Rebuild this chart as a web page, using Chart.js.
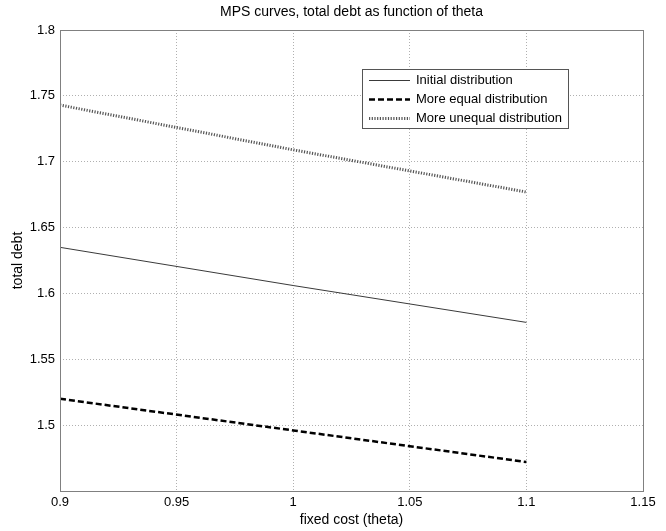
<!DOCTYPE html>
<html>
<head>
<meta charset="utf-8">
<script src="https://cdn.jsdelivr.net/npm/chart.js@4/dist/chart.umd.min.js"></script>
<style>
    html, body { margin: 0; padding: 0; background: #fff; }
    canvas { display: block; }
</style>
</head>
<body>
<canvas id="chart" width="666" height="531"></canvas>
<script>
'use strict';

// theta values
const theta = [0.9, 1.0, 1.1];

// total debt per distribution
const initialDebt = [1.635, 1.606, 1.578];
const equalDebt = [1.520, 1.496, 1.472];
const unequalDebt = [1.743, 1.709, 1.677];

const xTicks = [0.9, 0.95, 1.0, 1.05, 1.1, 1.15];
const xTickLabels = ['0.9', '0.95', '1', '1.05', '1.1', '1.15'];

const yTicks = [1.45, 1.5, 1.55, 1.6, 1.65, 1.7, 1.75, 1.8];
const yTickLabels = ['', '1.5', '1.55', '1.6', '1.65', '1.7', '1.75', '1.8'];

const seriesNames = ['Initial distribution', 'More equal distribution', 'More unequal distribution'];

const FONT = '"Liberation Sans", Arial, Helvetica, sans-serif';

function points(values) {
    return values.map((v, i) => ({ x: theta[i], y: v }));
}

/**
 * Centres the title over the plot area, the way MATLAB does.
 */
const centreTitle = {
    id: 'centreTitle',
    afterLayout(chart) {
        const t = chart.titleBlock;
        if (t) {
            t.left = chart.chartArea.left;
            t.right = chart.chartArea.right;
            t.width = t.right - t.left;
        }
    }
};

/**
 * Box round the plot area and a MATLAB style legend in its upper right.
 */
const boxAndLegend = {
    id: 'boxAndLegend',
    afterDatasetsDraw(chart) {
        const ctx = chart.ctx;
        const a = chart.chartArea;

        ctx.save();
        ctx.strokeStyle = '#808080';
        ctx.lineWidth = 1;
        ctx.setLineDash([]);
        ctx.strokeRect(Math.round(a.left) + 0.5, Math.round(a.top) + 0.5,
            Math.round(a.right - a.left), Math.round(a.bottom - a.top));

        // legend
        const lx = 362, ly = 69, lw = 206, lh = 59;
        ctx.fillStyle = '#fff';
        ctx.fillRect(lx, ly, lw, lh);
        ctx.strokeStyle = '#555';
        ctx.strokeRect(lx + 0.5, ly + 0.5, lw, lh);

        ctx.font = '13px ' + FONT;
        ctx.textBaseline = 'middle';
        ctx.textAlign = 'left';

        chart.data.datasets.forEach((ds, i) => {
            const y = ly + 11.5 + i * 19;
            ctx.beginPath();
            ctx.strokeStyle = ds.borderColor;
            ctx.lineWidth = ds.borderWidth;
            ctx.setLineDash(ds.borderDash || []);
            ctx.moveTo(lx + 7, y);
            ctx.lineTo(lx + 48, y);
            ctx.stroke();
            ctx.setLineDash([]);
            ctx.fillStyle = '#000';
            ctx.fillText(ds.label, lx + 54, y);
        });

        ctx.restore();
    }
};

new Chart(document.getElementById('chart'), {

    type: 'line',

    data: {
        datasets: [
            {
                label: seriesNames[0],
                data: points(initialDebt),
                borderColor: '#3a3a3a',
                borderWidth: 1,
                pointRadius: 0,
                tension: 0
            },
            {
                label: seriesNames[1],
                data: points(equalDebt),
                borderColor: '#000',
                borderWidth: 2.5,
                borderDash: [6, 3],
                pointRadius: 0,
                tension: 0
            },
            {
                label: seriesNames[2],
                data: points(unequalDebt),
                borderColor: '#555',
                borderWidth: 3,
                borderDash: [1.2, 1.5],
                pointRadius: 0,
                tension: 0
            }
        ]
    },

    options: {

        responsive: false,
        animation: false,
        devicePixelRatio: 1,

        layout: {
            padding: { left: 0, right: 23, top: 0, bottom: 0 }
        },

        plugins: {
            legend: { display: false },
            tooltip: { enabled: false },
            title: {
                display: true,
                text: 'MPS curves, total debt as function of theta',
                color: '#000',
                font: { family: FONT, size: 14, weight: 'normal' },
                padding: { top: 4, bottom: 9.2 }
            }
        },

        scales: {

            x: {
                type: 'linear',
                min: 0.9,
                max: 1.15,
                afterBuildTicks(scale) {
                    scale.ticks = xTicks.map(v => ({ value: v }));
                },
                afterFit(scale) {
                    scale.height = 40;
                },
                ticks: {
                    color: '#000',
                    padding: 4,
                    maxRotation: 0,
                    font: { family: FONT, size: 13 },
                    callback: (value, index) => xTickLabels[index]
                },
                grid: {
                    color: '#b0b0b0',
                    drawTicks: false
                },
                border: {
                    display: false,
                    dash: [1, 2]
                },
                title: {
                    display: true,
                    text: 'fixed cost (theta)',
                    color: '#000',
                    font: { family: FONT, size: 14 },
                    padding: { top: 0, bottom: 2 }
                }
            },

            y: {
                type: 'linear',
                min: 1.45,
                max: 1.8,
                afterBuildTicks(scale) {
                    scale.ticks = yTicks.map(v => ({ value: v }));
                },
                afterFit(scale) {
                    scale.width = 60;
                },
                ticks: {
                    color: '#000',
                    padding: 5,
                    font: { family: FONT, size: 13 },
                    callback: (value, index) => yTickLabels[index]
                },
                grid: {
                    color: '#b0b0b0',
                    drawTicks: false
                },
                border: {
                    display: false,
                    dash: [1, 2]
                },
                title: {
                    display: true,
                    text: 'total debt',
                    color: '#000',
                    font: { family: FONT, size: 14 },
                    padding: { top: 10, bottom: 0 }
                }
            }

        }

    },

    plugins: [centreTitle, boxAndLegend]

});
</script>
</body>
</html>
